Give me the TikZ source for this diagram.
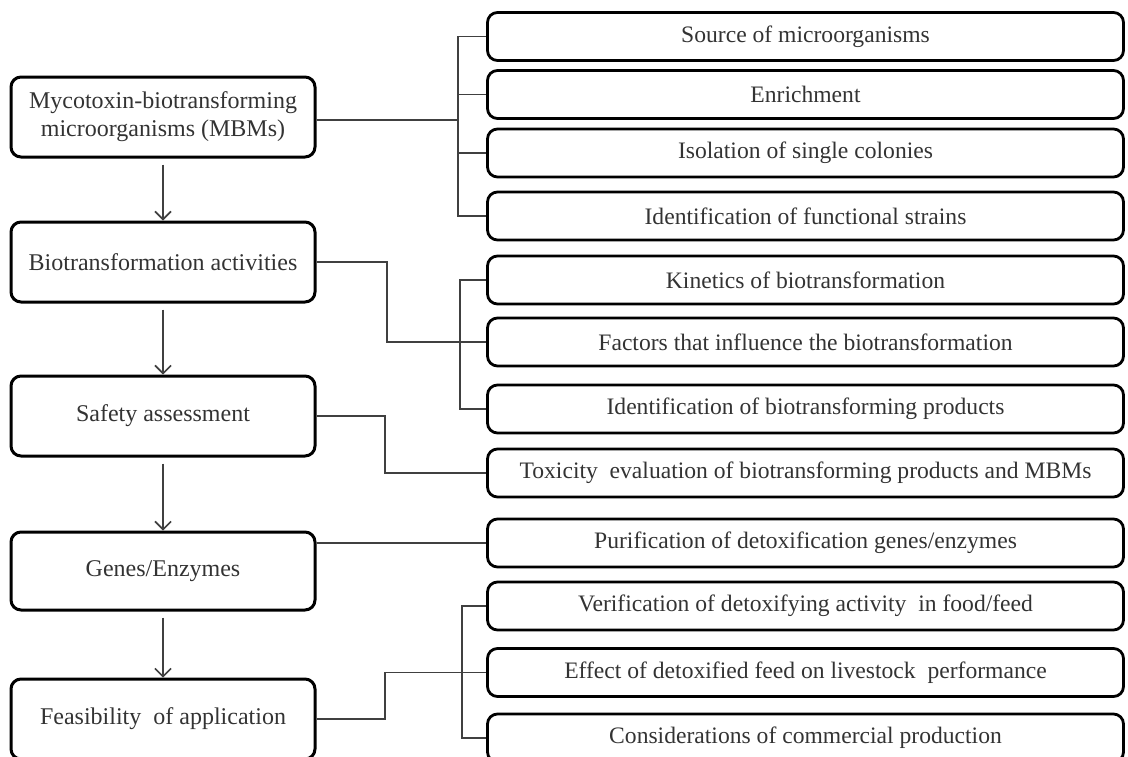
\documentclass[tikz,border=0pt]{standalone}
\usepackage{fontspec}
\setmainfont{Liberation Serif}
\usetikzlibrary{arrows.meta}
\tikzset{
  stage/.style={draw=black, line width=1.5pt, rounded corners=5pt, minimum width=152pt, minimum height=40pt, inner sep=2pt, align=center, text=black!80, font=\fontsize{12}{14}\selectfont},
  task/.style={draw=black, line width=1.4pt, rounded corners=5pt, minimum width=318pt, minimum height=24pt, inner sep=1pt, text=black!80, font=\fontsize{11.8}{13.5}\selectfont},
  link/.style={draw=black!75, line width=0.8pt},
  flow/.style={link, -{Straight Barb[length=4pt,width=8pt]}, shorten <=3pt}
}
\begin{document}
\begin{tikzpicture}[x=0.5pt, y=-0.5pt]
\path[use as bounding box, clip] (0,0) rectangle (1128,756);
% stages
\node[stage] (mbm) at (163,117) {Mycotoxin-biotransforming\\microorganisms (MBMs)};
\node[stage] (bio) at (163,262) {Biotransformation activities};
\node[stage] (safety) at (163,416) {Safety assessment};
\node[stage, minimum height=39pt] (genes) at (163,571) {Genes/Enzymes};
\node[stage] (feas) at (163,719) {Feasibility\enspace of application};
% tasks
\node[task] (source) at (805.5,36.5) {Source of microorganisms};
\node[task] (enrich) at (805.5,94.5) {Enrichment};
\node[task] (isol) at (805.5,153) {Isolation of single colonies};
\node[task] (ident) at (805.5,216) {Identification of functional strains};
\node[task] (kin) at (805.5,280) {Kinetics of biotransformation};
\node[task] (fact) at (805.5,342) {Factors that influence the biotransformation};
\node[task] (idprod) at (805.5,409) {Identification of biotransforming products};
\node[task] (tox) at (805.5,473) {Toxicity\enspace evaluation of biotransforming products and MBMs};
\node[task] (purif) at (805.5,543) {Purification of detoxification genes/enzymes};
\node[task] (verif) at (805.5,606) {Verification of detoxifying activity\enspace in food/feed};
\node[task] (effect) at (805.5,672.5) {Effect of detoxified feed on livestock\enspace performance};
\node[task] (consid) at (805.5,738) {Considerations of commercial production};
% arrows between stages
\foreach \a/\b in {mbm/bio, bio/safety, safety/genes, genes/feas}
  \draw[flow] (\a) -- (\b);
% brackets
\coordinate (j1) at (458,0);
\coordinate (j2) at (460,0);
\coordinate (j3) at (462,0);
\coordinate (k1) at (387,0);
\coordinate (k2) at (385,0);
\coordinate (k3) at (385,0);
\draw[link] (source.west) -- (source.west -| j1) -- (ident.west -| j1) -- (ident.west);
\foreach \n in {enrich, isol}
  \draw[link] (\n.west) -- (\n.west -| j1);
\draw[link] ([yshift=-1.5pt]mbm.east) -- ([yshift=-1.5pt]mbm.east -| j1);
\draw[link] (kin.west) -- (kin.west -| j2) -- (idprod.west -| j2) -- (idprod.west);
\draw[link] (bio.east) -- (bio.east -| k1) -- (fact.west -| k1) -- (fact.west);
\draw[link] (safety.east) -- (safety.east -| k2) -- (tox.west -| k2) -- (tox.west);
\draw[link] (purif.west) -- (purif.west -| genes.east);
\draw[link] (verif.west) -- (verif.west -| j3) -- (consid.west -| j3) -- (consid.west);
\draw[link] (feas.east) -- (feas.east -| k3) -- (effect.west -| k3) -- (effect.west);
\end{tikzpicture}
\end{document}
